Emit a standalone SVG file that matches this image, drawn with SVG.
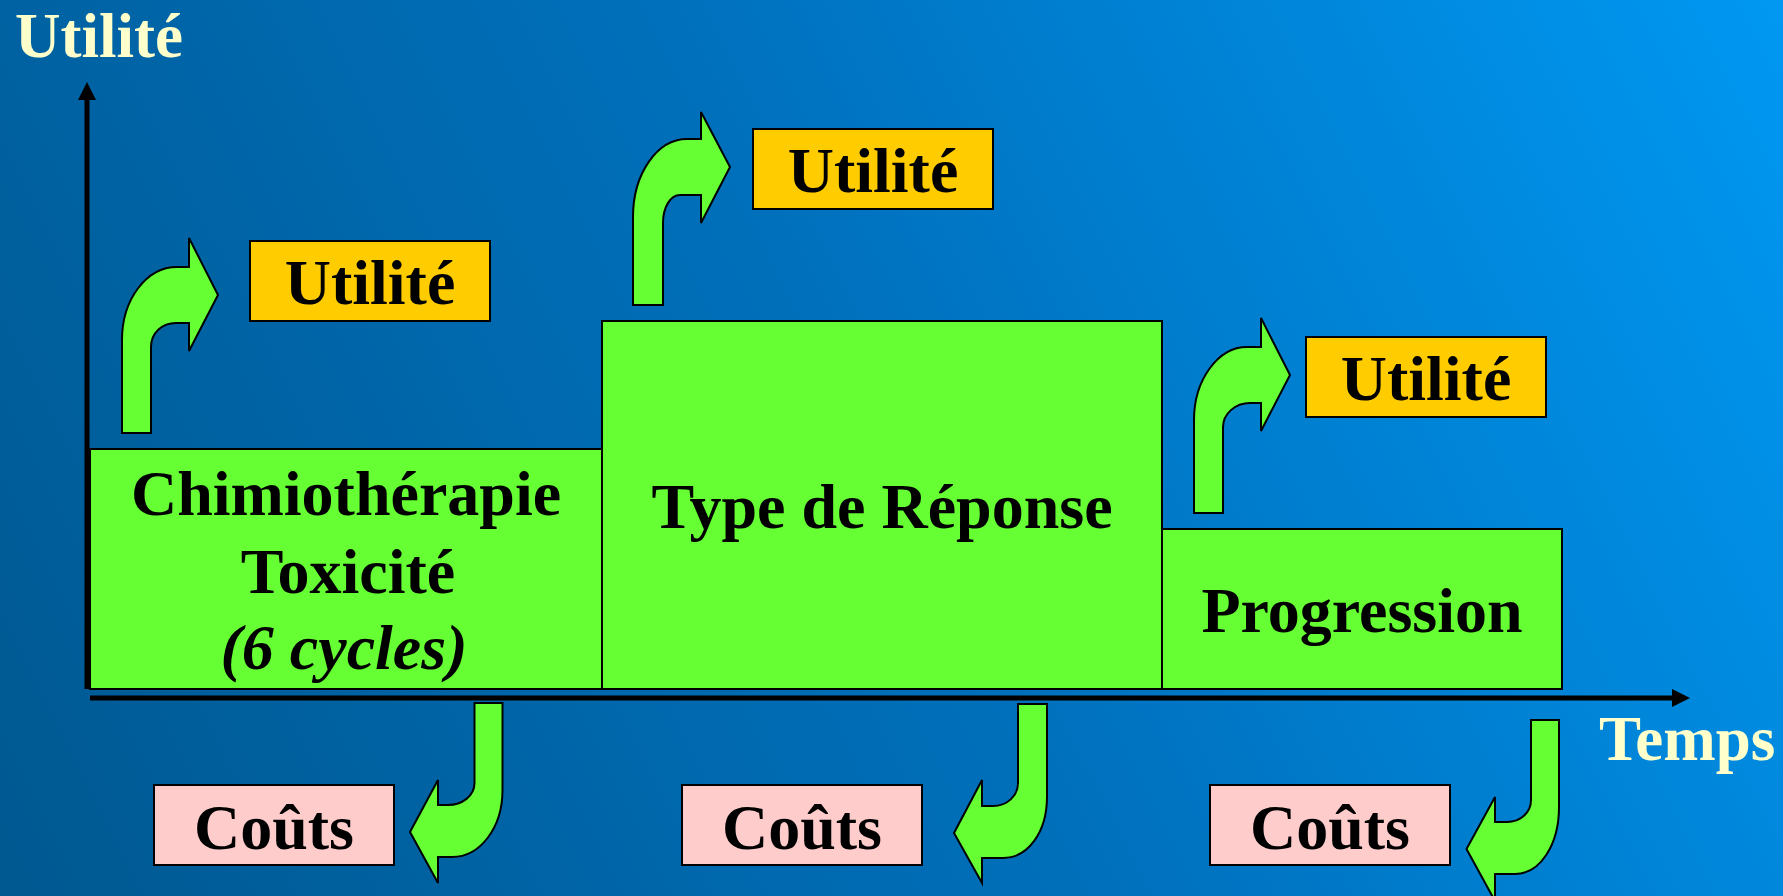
<svg xmlns="http://www.w3.org/2000/svg" width="1783" height="896" viewBox="0 0 1783 896">
  <defs>
    <linearGradient id="bg" x1="0" y1="896" x2="1783" y2="0" gradientUnits="userSpaceOnUse">
      <stop offset="0" stop-color="#005890"/>
      <stop offset="0.5" stop-color="#0070BC"/>
      <stop offset="1" stop-color="#0098F2"/>
    </linearGradient>
    <style>
      .bar { fill: #66FF33; stroke: #000; stroke-width: 2; }
      .arr { fill: #66FF33; stroke: #000; stroke-width: 2; stroke-linejoin: miter; }
      .util { fill: #FFCC00; stroke: #000; stroke-width: 2; }
      .cout { fill: #FFCCCC; stroke: #000; stroke-width: 2; }
      .t { font-family: "Liberation Serif", "Times New Roman", serif; font-weight: bold; font-size: 64px; fill: #000; text-anchor: middle; }
      .ax { font-family: "Liberation Serif", "Times New Roman", serif; font-weight: bold; font-size: 63px; fill: #FFFFCC; }
      .axis { stroke: #000; stroke-width: 5; fill: none; }
    </style>
  </defs>
  <rect x="0" y="0" width="1783" height="896" fill="url(#bg)"/>

  <g id="axes">
    <line class="axis" x1="87" y1="689" x2="87" y2="96"/>
    <polygon points="87,82 78,100 96,100" fill="#000"/>
    <line class="axis" x1="90" y1="698" x2="1676" y2="698"/>
    <polygon points="1690,698 1672,689 1672,707" fill="#000"/>
    <text class="ax" x="15" y="57">Utilité</text>
    <text class="ax" x="1599" y="760">Temps</text>
  </g>

  <g id="chimio">
    <rect class="bar" x="90" y="449" width="512" height="240"/>
    <text class="t" x="346" y="515">Chimiothérapie</text>
    <text class="t" x="348" y="593">Toxicité</text>
    <text class="t" x="344" y="669" font-style="italic">(6 cycles)</text>
  </g>
  <g id="reponse">
    <rect class="bar" x="602" y="321" width="560" height="368"/>
    <text class="t" x="882" y="528">Type de Réponse</text>
  </g>
  <g id="progression">
    <rect class="bar" x="1162" y="529" width="400" height="160"/>
    <text class="t" x="1362" y="632">Progression</text>
  </g>

  <g id="utilite1">
    <rect class="util" x="250" y="241" width="240" height="80"/>
    <text class="t" x="370" y="304">Utilité</text>
  </g>
  <g id="utilite2">
    <rect class="util" x="753" y="129" width="240" height="80"/>
    <text class="t" x="873" y="192">Utilité</text>
  </g>
  <g id="utilite3">
    <rect class="util" x="1306" y="337" width="240" height="80"/>
    <text class="t" x="1426" y="400">Utilité</text>
  </g>

  <g id="couts1">
    <rect class="cout" x="154" y="785" width="240" height="80"/>
    <text class="t" x="274" y="849">Coûts</text>
  </g>
  <g id="couts2">
    <rect class="cout" x="682" y="785" width="240" height="80"/>
    <text class="t" x="802" y="849">Coûts</text>
  </g>
  <g id="couts3">
    <rect class="cout" x="1210" y="785" width="240" height="80"/>
    <text class="t" x="1330" y="849">Coûts</text>
  </g>

  <g id="connectors">
    <path class="arr" d="M122,433 L122,340 C122,300 146,267 177,267 L189,267 L189,238 L218,295 L189,351 L189,323 L176,323 C162,323 151,333 151,347 L151,433 Z"/>
    <path class="arr" d="M633,305 L633,217 C633,174 657,139 687,139 L701,139 L701,112 L730,167 L701,223 L701,195 L680,195 C670,195 663,208 663,223 L663,305 Z"/>
    <path class="arr" d="M1194,513 L1194,420 C1194,380 1218,347 1247,347 L1261,347 L1261,318 L1290,375 L1261,431 L1261,403 L1250,403 C1235,403 1223,414 1223,427 L1223,513 Z"/>
    <path class="arr" d="M474.5,703 L502.5,703 L502.5,790 C502.5,828 480,857 452,857 L438,857 L438,883 L410,832 L438,780 L438,805 L448,805 C462,805 474.5,796 474.5,783 Z"/>
    <path class="arr" d="M1018,704 L1047,704 L1047,797 C1047,832 1028,858 1003,858 L982,858 L982,883 L954,833 L982,780 L982,806 L993,806 C1007,806 1018,796 1018,783 Z"/>
    <path class="arr" d="M1531,720 L1559,720 L1559,807 C1559,845 1540,874 1515,874 L1495,874 L1495,901 L1466.5,849 L1495,797 L1495,822 L1507,822 C1521,822 1531,812 1531,800 Z"/>
  </g>
</svg>
